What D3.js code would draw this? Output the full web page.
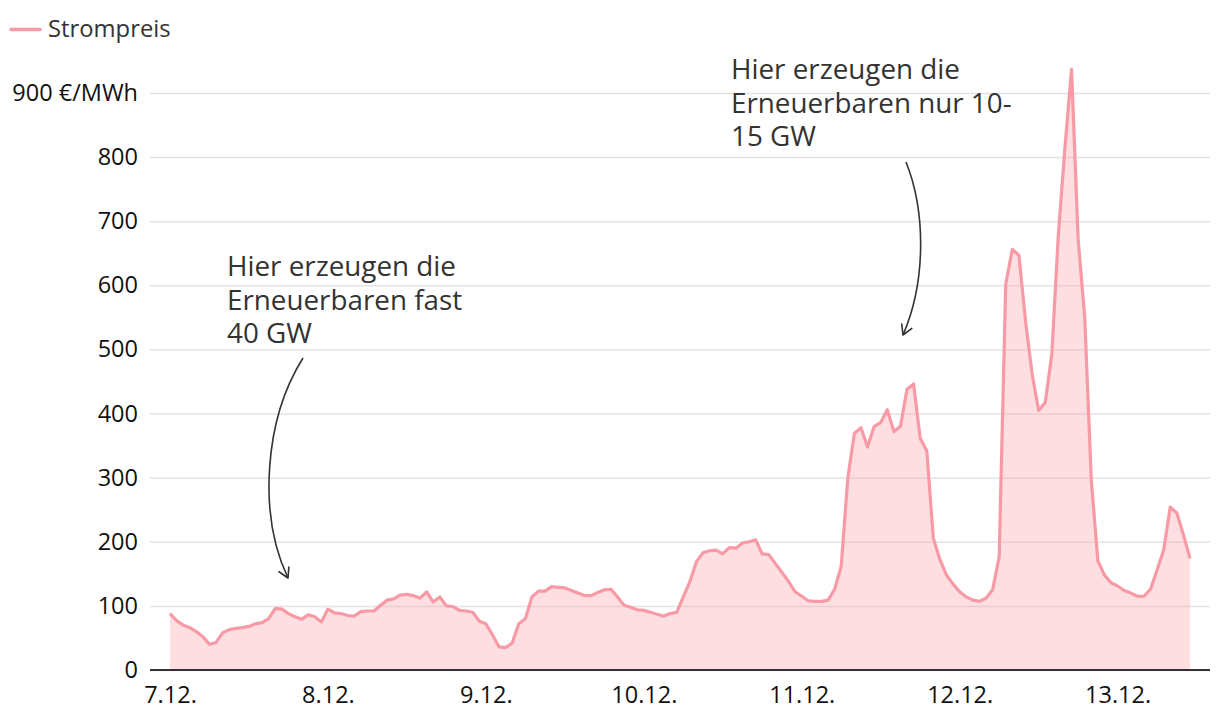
<!DOCTYPE html>
<html>
<head>
<meta charset="utf-8">
<script src="https://cdn.jsdelivr.net/npm/d3@7"></script>
<style>
  body { margin: 0; background: #fff; }
  svg { font-family: "Open Sans", sans-serif; }
</style>
</head>
<body>
<div id="vis"></div>
<script>
// hourly electricity price, starting 7.12. 00:00 (€/MWh)
const startTime = new Date(2022, 11, 7, 0, 0);
const prices = [
  88, 77, 70, 66, 60, 52, 40, 43, 58, 63, 65, 66, 68, 72, 74, 80, 96, 95, 88, 83, 79, 86, 83, 75,
  95, 89, 88, 85, 84, 91, 92, 92, 101, 109, 111, 117, 118, 116, 112, 122, 106, 114, 100, 99, 93, 92, 90, 76,
  72, 55, 36, 35, 42, 72, 80, 114, 123, 123, 130, 129, 128, 124, 120, 116, 116, 121, 125, 126, 114, 101, 98, 94,
  93, 90, 87, 84, 88, 90, 114, 138, 169, 183, 186, 187, 181, 191, 190, 198, 200, 203, 181, 180, 166, 152, 138, 122,
  115, 108, 107, 107, 109, 126, 162, 299, 369, 378, 348, 380, 386, 406, 372, 380, 438, 446, 361, 342, 205, 172, 148, 134,
  122, 114, 109, 107, 112, 125, 176, 602, 656, 647, 545, 462, 405, 417, 492, 680, 815, 937, 672, 550, 296, 170, 148, 136,
  131, 124, 120, 115, 115, 126, 156, 187, 254, 245, 211, 174
];
const dayTicks = [7, 8, 9, 10, 11, 12, 13];
const yTicks = [0, 100, 200, 300, 400, 500, 600, 700, 800, 900];
const seriesName = "Strompreis";
const notes = [
  { lines: ["Hier erzeugen die", "Erneuerbaren fast", "40 GW"] },
  { lines: ["Hier erzeugen die", "Erneuerbaren nur 10-", "15 GW"] }
];

const data = prices.map((v, i) => ({ date: d3.timeHour.offset(startTime, i), value: v }));

const width = 1220, height = 726;
const lineColor = "#f89aa5";
const font = '"Open Sans", sans-serif';

const svg = d3.select("#vis").append("svg")
  .attr("width", width)
  .attr("height", height);

const x = d3.scaleTime()
  .domain(d3.extent(data, d => d.date))
  .range([170, 1190]);
const y = d3.scaleLinear()
  .domain([0, 900])
  .range([670, 93]);

// y axis with gridlines
const yAxis = svg.append("g")
  .attr("transform", "translate(150,0)")
  .call(d3.axisLeft(y)
    .tickValues(yTicks)
    .tickSize(-1060)
    .tickPadding(12)
    .tickFormat(d => d === 900 ? "900 €/MWh" : d));
yAxis.attr("font-family", font).attr("font-size", 23.5);
yAxis.select(".domain").remove();
yAxis.selectAll("line").attr("stroke", "#e3e3e3").attr("stroke-width", 1.5);
yAxis.selectAll("text").attr("fill", "#111");

// area + line
svg.append("path")
  .datum(data)
  .attr("fill", lineColor)
  .attr("fill-opacity", 0.32)
  .attr("d", d3.area().x(d => x(d.date)).y0(y(0)).y1(d => y(d.value)));

svg.append("path")
  .datum(data)
  .attr("fill", "none")
  .attr("stroke", lineColor)
  .attr("stroke-width", 3.2)
  .attr("stroke-linejoin", "round")
  .attr("d", d3.line().x(d => x(d.date)).y(d => y(d.value)));

// x axis
const xAxis = svg.append("g")
  .attr("transform", `translate(0,${y(0)})`)
  .call(d3.axisBottom(x)
    .tickValues(dayTicks.map(d => new Date(2022, 11, d)))
    .tickSize(0)
    .tickPadding(16)
    .tickFormat(d3.timeFormat("%-d.%m.")));
xAxis.attr("font-family", font).attr("font-size", 23.5);
xAxis.select(".domain").remove();
xAxis.selectAll("text").attr("fill", "#111");
svg.append("line")
  .attr("x1", 150).attr("x2", 1210)
  .attr("y1", y(0)).attr("y2", y(0))
  .attr("stroke", "#333")
  .attr("stroke-width", 2);

// annotations
const notePos = [
  { tx: 227, ty: 276, arrow: [[303, 358], [264, 420], [258, 515], [288, 578]] },
  { tx: 731, ty: 79, arrow: [[906, 162], [926, 212], [926, 282], [903, 335]] }
];
notes.forEach((n, i) => {
  const p = notePos[i];
  const t = svg.append("text")
    .attr("x", p.tx).attr("y", p.ty)
    .attr("font-size", 27.8)
    .attr("fill", "#333");
  n.lines.forEach((l, j) => {
    t.append("tspan").attr("x", p.tx).attr("dy", j === 0 ? 0 : 33.5).text(l);
  });
  const [a, b, c, e] = p.arrow;
  svg.append("path")
    .attr("d", `M${a}C${b} ${c} ${e}`)
    .attr("fill", "none")
    .attr("stroke", "#333")
    .attr("stroke-width", 1.6);
  // arrow head
  const ang = Math.atan2(e[1] - c[1], e[0] - c[0]);
  const len = 11, spread = Math.PI / 6;
  const w1 = [e[0] - len * Math.cos(ang - spread), e[1] - len * Math.sin(ang - spread)];
  const w2 = [e[0] - len * Math.cos(ang + spread), e[1] - len * Math.sin(ang + spread)];
  svg.append("path")
    .attr("d", `M${w1}L${e}L${w2}`)
    .attr("fill", "none")
    .attr("stroke", "#333")
    .attr("stroke-width", 1.6)
    .attr("stroke-linecap", "round")
    .attr("stroke-linejoin", "round");
});

// legend
svg.append("line")
  .attr("x1", 11).attr("x2", 40)
  .attr("y1", 29.5).attr("y2", 29.5)
  .attr("stroke", lineColor)
  .attr("stroke-width", 3.5)
  .attr("stroke-linecap", "round");
svg.append("text")
  .attr("x", 48).attr("y", 37)
  .attr("font-size", 23.8)
  .attr("fill", "#333")
  .text(seriesName);
</script>
</body>
</html>
